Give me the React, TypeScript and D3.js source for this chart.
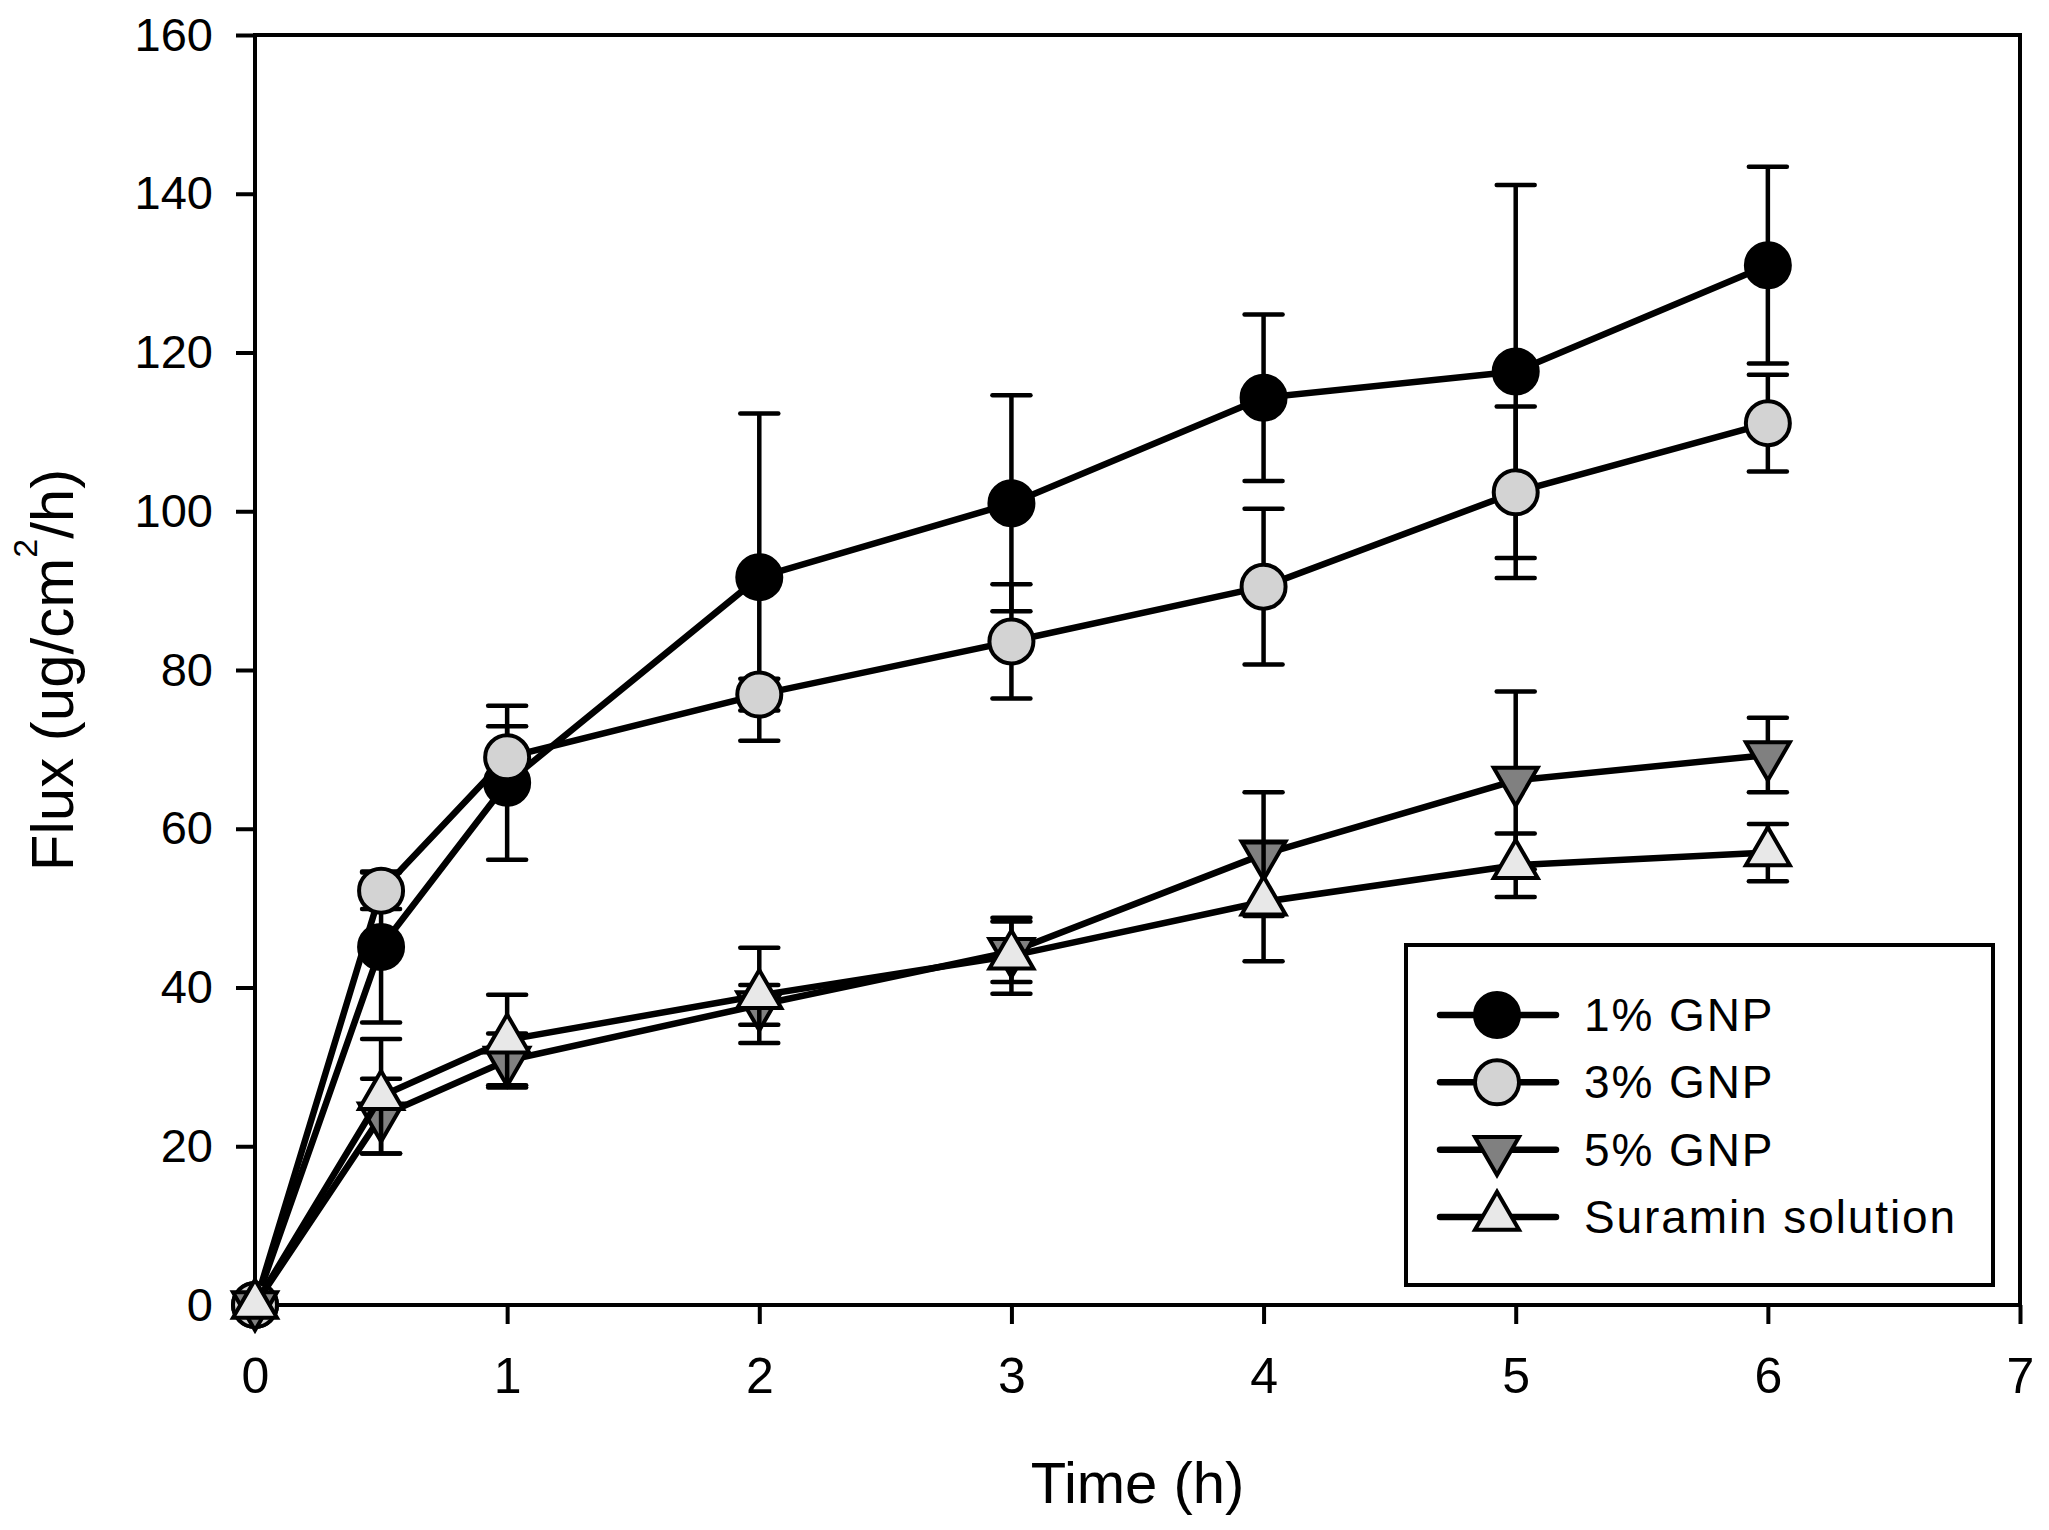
import React, { useEffect, useRef } from "react";
import * as d3 from "d3";

// time points (h)
const times = [0, 0.5, 1, 2, 3, 4, 5, 6];

// flux means and error bars
const gnp1 = [0, 45.1, 65.8, 91.7, 101.0, 114.3, 117.6, 131.0];
const gnp1Err = [0, 9.5, 9.7, 20.6, 13.6, 10.5, 23.5, 12.4];
const gnp3 = [0, 52.2, 69.0, 76.9, 83.6, 90.5, 102.4, 111.1];
const gnp3Err = [0, 2.3, 3.9, 2.0, 7.2, 9.8, 10.8, 6.1];
const gnp5 = [0, 23.8, 30.8, 37.8, 44.5, 56.8, 66.1, 69.3];
const gnp5Err = [0, 4.7, 3.4, 2.5, 3.8, 7.8, 11.2, 4.7];
const suramin = [0, 26.3, 33.4, 39.0, 44.0, 50.8, 55.4, 57.0];
const suraminErr = [0, 7.2, 5.7, 6.0, 4.8, 7.5, 4.0, 3.6];

const seriesNames = ["1% GNP", "3% GNP", "5% GNP", "Suramin solution"];
const xTicks = [0, 1, 2, 3, 4, 5, 6, 7];
const yTicks = [0, 20, 40, 60, 80, 100, 120, 140, 160];

type Shape = "circle" | "down" | "up";

const FONT = "'Liberation Sans', Arial, Helvetica, sans-serif";

export default function App() {
  const svgRef = useRef<SVGSVGElement>(null);

  useEffect(() => {
    if (!svgRef.current) return;
    const svg = d3.select(svgRef.current);
    svg.selectAll("*").remove();

    const left = 255,
      right = 2020,
      top = 35,
      bottom = 1305;

    const x = d3.scaleLinear().domain([0, 7]).range([left, right]);
    const y = d3.scaleLinear().domain([0, 160]).range([bottom, top]);

    const series = [
      { name: seriesNames[0], vals: gnp1, err: gnp1Err, shape: "circle" as Shape, fill: "#000000" },
      { name: seriesNames[1], vals: gnp3, err: gnp3Err, shape: "circle" as Shape, fill: "#d3d3d3" },
      { name: seriesNames[2], vals: gnp5, err: gnp5Err, shape: "down" as Shape, fill: "#808080" },
      { name: seriesNames[3], vals: suramin, err: suraminErr, shape: "up" as Shape, fill: "#e8e8e8" },
    ];

    // axes
    const yAxis = d3
      .axisLeft(y)
      .tickValues(yTicks)
      .tickFormat(d3.format("d"))
      .tickSize(19)
      .tickSizeOuter(0)
      .tickPadding(23);
    const gy = svg.append("g").attr("transform", `translate(${left},0)`).call(yAxis);
    gy.select(".domain").remove();
    gy.selectAll("line").attr("stroke", "#000").attr("stroke-width", 4);
    gy.selectAll("text")
      .attr("font-family", FONT)
      .attr("font-size", 47)
      .attr("fill", "#000");

    const xAxis = d3
      .axisBottom(x)
      .tickValues(xTicks)
      .tickFormat(d3.format("d"))
      .tickSize(19)
      .tickSizeOuter(0)
      .tickPadding(33);
    const gx = svg.append("g").attr("transform", `translate(0,${bottom})`).call(xAxis);
    gx.select(".domain").remove();
    gx.selectAll("line").attr("stroke", "#000").attr("stroke-width", 4);
    gx.selectAll("text")
      .attr("font-family", FONT)
      .attr("font-size", 50)
      .attr("fill", "#000");

    // frame
    svg
      .append("rect")
      .attr("x", left)
      .attr("y", top)
      .attr("width", right - left)
      .attr("height", bottom - top)
      .attr("fill", "none")
      .attr("stroke", "#000")
      .attr("stroke-width", 4);

    // axis titles
    svg
      .append("text")
      .attr("x", (left + right) / 2)
      .attr("y", 1503)
      .attr("text-anchor", "middle")
      .attr("font-family", FONT)
      .attr("font-size", 58)
      .text("Time (h)");

    const yt = svg
      .append("text")
      .attr("transform", `translate(73,${(top + bottom) / 2}) rotate(-90)`)
      .attr("text-anchor", "middle")
      .attr("font-family", FONT)
      .attr("font-size", 60);
    yt.append("tspan").text("Flux (ug/cm");
    yt.append("tspan").attr("font-size", 34).attr("dy", -36).text("2");
    yt.append("tspan").attr("dy", 36).text("/h)");

    const drawMarker = (
      g: d3.Selection<SVGGElement, unknown, null, undefined>,
      cx: number,
      cy: number,
      shape: Shape,
      fill: string,
    ) => {
      if (shape === "circle") {
        g.append("circle")
          .attr("cx", cx)
          .attr("cy", cy)
          .attr("r", 22)
          .attr("fill", fill)
          .attr("stroke", "#000")
          .attr("stroke-width", 4);
      } else {
        const hw = 22,
          h = 38;
        const pts =
          shape === "down"
            ? [
                [cx - hw, cy - h / 3],
                [cx + hw, cy - h / 3],
                [cx, cy + (2 * h) / 3],
              ]
            : [
                [cx - hw, cy + h / 3],
                [cx + hw, cy + h / 3],
                [cx, cy - (2 * h) / 3],
              ];
        g.append("path")
          .attr("d", d3.line()(pts as [number, number][]) + "Z")
          .attr("fill", fill)
          .attr("stroke", "#000")
          .attr("stroke-width", 4)
          .attr("stroke-linejoin", "miter");
      }
    };

    const plot = svg.append("g");
    const line = d3
      .line<number>()
      .x((_, i) => x(times[i]))
      .y((d) => y(d));

    series.forEach((s) => {
      const g = plot.append("g");
      // error bars
      s.vals.forEach((v, i) => {
        const e = s.err[i];
        if (!e) return;
        const cx = x(times[i]);
        g.append("line")
          .attr("x1", cx)
          .attr("x2", cx)
          .attr("y1", y(v - e))
          .attr("y2", y(v + e))
          .attr("stroke", "#000")
          .attr("stroke-width", 4.5);
        [v - e, v + e].forEach((c) => {
          g.append("line")
            .attr("x1", cx - 19)
            .attr("x2", cx + 19)
            .attr("y1", y(c))
            .attr("y2", y(c))
            .attr("stroke", "#000")
            .attr("stroke-width", 4.5)
            .attr("stroke-linecap", "round");
        });
      });
      g.append("path")
        .attr("d", line(s.vals))
        .attr("fill", "none")
        .attr("stroke", "#000")
        .attr("stroke-width", 6.5)
        .attr("stroke-linejoin", "round");
      s.vals.forEach((v, i) => drawMarker(g, x(times[i]), y(v), s.shape, s.fill));
    });

    // legend
    const legend = svg.append("g");
    legend
      .append("rect")
      .attr("x", 1406)
      .attr("y", 945)
      .attr("width", 1993 - 1406)
      .attr("height", 1285 - 945)
      .attr("fill", "#fff")
      .attr("stroke", "#000")
      .attr("stroke-width", 4);
    const rowY = d3.scalePoint<string>().domain(seriesNames).range([1015, 1217]);
    series.forEach((s) => {
      const ly = rowY(s.name) as number;
      const lg = legend.append("g");
      lg.append("line")
        .attr("x1", 1440)
        .attr("x2", 1556)
        .attr("y1", ly)
        .attr("y2", ly)
        .attr("stroke", "#000")
        .attr("stroke-width", 6.5)
        .attr("stroke-linecap", "round");
      drawMarker(lg, 1497, ly, s.shape, s.fill);
      lg.append("text")
        .attr("x", 1584)
        .attr("y", ly + 16)
        .attr("font-family", FONT)
        .attr("font-size", 46)
        .attr("letter-spacing", 1.9)
        .text(s.name);
    });
  }, []);

  return (
    <svg
      ref={svgRef}
      width={2049}
      height={1530}
      style={{ position: "absolute", left: 0, top: 0, background: "#fff" }}
    />
  );
}
